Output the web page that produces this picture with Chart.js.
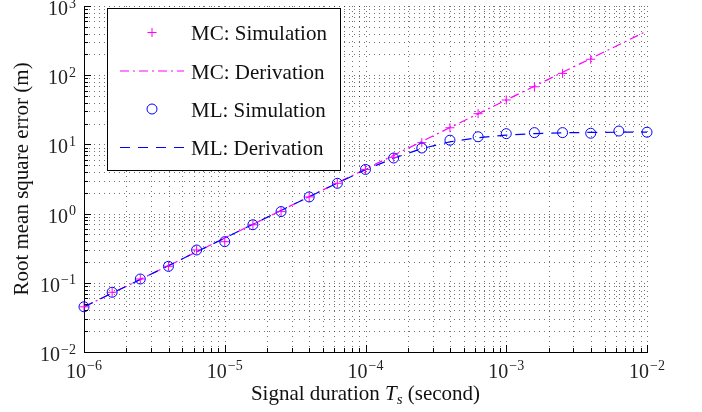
<!DOCTYPE html>
<html>
<head>
<meta charset="utf-8">
<script src="https://cdn.jsdelivr.net/npm/chart.js@4.4.0/dist/chart.umd.min.js"></script>
<style>
  html, body { margin: 0; padding: 0; background: #fff; }
  #wrap { width: 702px; height: 412px; }
</style>
</head>
<body>
<div id="wrap"><canvas id="rmse" width="702" height="412"></canvas></div>
<script>
// signal durations (s), 0.2-decade steps
const DURATIONS = [
  1e-6, 1.585e-6, 2.512e-6, 3.981e-6, 6.310e-6,
  1e-5, 1.585e-5, 2.512e-5, 3.981e-5, 6.310e-5,
  1e-4, 1.585e-4, 2.512e-4, 3.981e-4, 6.310e-4,
  1e-3, 1.585e-3, 2.512e-3, 3.981e-3, 6.310e-3,
  1e-2
];

// RMSE values (m)
const MC_SIM = [0.045, 0.073, 0.1135, 0.173, 0.298, 0.393, 0.69, 1.07, 1.74, 2.74,
                4.35, 6.5, 10.6, 17.4, 27.8, 43.8, 68, 106, 170];
const MC_DERIV = [0.045, 0.071, 0.112, 0.177, 0.28, 0.443, 0.70, 1.11, 1.76, 2.78,
                  4.4, 6.97, 11.0, 17.5, 27.7, 43.8, 69.4, 110, 174, 275, 436];
const ML_SIM = [0.045, 0.073, 0.1135, 0.173, 0.298, 0.393, 0.69, 1.07, 1.74, 2.74,
                4.35, 6.36, 8.87, 11.5, 12.9, 14.3, 14.8, 14.8, 14.5, 15.6, 15.0];
const ML_DERIV = [0.045, 0.071, 0.112, 0.177, 0.28, 0.443, 0.70, 1.11, 1.75, 2.76,
                  4.3, 6.3, 8.7, 10.9, 12.5, 13.6, 14.3, 14.7, 14.9, 15.0, 15.0];

const LABELS = ['MC: Simulation', 'MC: Derivation', 'ML: Simulation', 'ML: Derivation'];

// axis decades and minor multipliers
const X_EXPONENTS = [-6, -5, -4, -3, -2];
const Y_EXPONENTS = [-2, -1, 0, 1, 2, 3];
const MINOR_STEPS = [2, 3, 4, 5, 6, 7, 8, 9];

const MAGENTA = '#ff00ff';
const BLUE = '#0000ff';
const SERIF = '"Liberation Serif", "Times New Roman", serif';
const DASH_DOT = [9, 4, 2, 4];
const DASHED = [10, 8];

// legend styles, one per series
const LEGEND_KIND = ['cross', DASH_DOT, 'circle', DASHED];
const LEGEND_COLOR = [MAGENTA, MAGENTA, BLUE, BLUE];

function pairs(ys) {
  return ys.map((y, i) => ({ x: DURATIONS[i], y }));
}

function supText(e) {
  return e < 0 ? '\u2212' + Math.abs(e) : String(e);
}

function px(v) { return Math.round(v) + 0.5; }

const datasets = [
  { label: LABELS[0], data: pairs(MC_SIM), showLine: false, pointStyle: 'cross',
    pointRadius: 4.5, pointBorderColor: MAGENTA, pointBorderWidth: 1, borderColor: MAGENTA,
    backgroundColor: MAGENTA, clip: false, order: 1 },
  { label: LABELS[1], data: pairs(MC_DERIV), showLine: true, borderColor: MAGENTA, borderWidth: 1.2,
    borderDash: DASH_DOT, pointRadius: 0, fill: false, order: 3 },
  { label: LABELS[2], data: pairs(ML_SIM), showLine: false, pointStyle: 'circle',
    pointRadius: 5, pointBorderColor: BLUE, pointBackgroundColor: 'rgba(0,0,0,0)',
    pointBorderWidth: 1, borderColor: BLUE, clip: false, order: 0 },
  { label: LABELS[3], data: pairs(ML_DERIV), showLine: true, borderColor: BLUE, borderWidth: 1.2,
    borderDash: DASHED, pointRadius: 0, fill: false, order: 2 }
];

// dotted grid under the data
const gridPlugin = {
  id: 'dottedGrid',
  beforeDatasetsDraw(chart) {
    const { ctx, chartArea: a, scales: { x, y } } = chart;
    ctx.save();
    ctx.strokeStyle = 'rgba(0,0,0,0.55)';
    ctx.lineWidth = 1;
    ctx.setLineDash([1, 4]);
    X_EXPONENTS.forEach(e => {
      [1].concat(MINOR_STEPS).forEach(m => {
        const v = m * Math.pow(10, e);
        if (v < x.min * 0.999 || v > x.max * 1.001) return;
        const xp = px(x.getPixelForValue(v));
        ctx.beginPath(); ctx.moveTo(xp, a.bottom); ctx.lineTo(xp, a.top); ctx.stroke();
      });
    });
    Y_EXPONENTS.forEach(e => {
      [1].concat(MINOR_STEPS).forEach(m => {
        const v = m * Math.pow(10, e);
        if (v < y.min * 0.999 || v > y.max * 1.001) return;
        const yp = px(y.getPixelForValue(v));
        ctx.beginPath(); ctx.moveTo(a.left, yp); ctx.lineTo(a.right, yp); ctx.stroke();
      });
    });
    ctx.restore();
  }
};

// ticks, labels, titles, legend
const decorPlugin = {
  id: 'decor',
  afterDraw(chart) {
    const { ctx, chartArea: a, scales: { x, y } } = chart;
    ctx.save();
    ctx.setLineDash([]);
    ctx.strokeStyle = '#000';
    ctx.lineWidth = 1;

    // inward tick marks
    X_EXPONENTS.forEach(e => {
      [1].concat(MINOR_STEPS).forEach(m => {
        const v = m * Math.pow(10, e);
        if (v < x.min * 0.999 || v > x.max * 1.001) return;
        const xp = px(x.getPixelForValue(v));
        const len = m === 1 ? 7 : 4;
        ctx.beginPath(); ctx.moveTo(xp, a.bottom); ctx.lineTo(xp, a.bottom - len); ctx.stroke();
      });
    });
    Y_EXPONENTS.forEach(e => {
      [1].concat(MINOR_STEPS).forEach(m => {
        const v = m * Math.pow(10, e);
        if (v < y.min * 0.999 || v > y.max * 1.001) return;
        const yp = px(y.getPixelForValue(v));
        const len = m === 1 ? 7 : 4;
        ctx.beginPath(); ctx.moveTo(a.left, yp); ctx.lineTo(a.left + len, yp); ctx.stroke();
      });
    });

    // tick labels 10^n
    const big = '20px ' + SERIF, small = '14px ' + SERIF;
    ctx.fillStyle = '#222';
    ctx.textBaseline = 'alphabetic';
    ctx.textAlign = 'left';
    X_EXPONENTS.forEach(e => {
      const xp = x.getPixelForValue(Math.pow(10, e));
      ctx.font = big; const w1 = ctx.measureText('10').width;
      ctx.font = small; const w2 = ctx.measureText(supText(e)).width;
      const x0 = xp - (w1 + w2 + 1) / 2;
      ctx.font = big; ctx.fillText('10', x0, 378);
      ctx.font = small; ctx.fillText(supText(e), x0 + w1 + 1, 370);
    });
    Y_EXPONENTS.forEach(e => {
      const yp = y.getPixelForValue(Math.pow(10, e));
      ctx.font = big; const w1 = ctx.measureText('10').width;
      ctx.font = small; const w2 = ctx.measureText(supText(e)).width;
      const right = 76;
      ctx.font = big; ctx.fillText('10', right - w2 - w1 - 1, yp + 9);
      ctx.font = small; ctx.fillText(supText(e), right - w2, yp + 1.5);
    });

    // axis titles
    ctx.fillStyle = '#111';
    ctx.font = '21px ' + SERIF;
    ctx.save();
    ctx.translate(22, (a.top + a.bottom) / 2);
    ctx.rotate(-Math.PI / 2);
    ctx.textAlign = 'center';
    ctx.textBaseline = 'middle';
    ctx.fillText('Root mean square error (m)', 0, 0);
    ctx.restore();

    const parts = [
      { t: 'Signal duration ', f: '21px ' + SERIF, dy: 0 },
      { t: 'T', f: 'italic 21px ' + SERIF, dy: 0 },
      { t: 's', f: 'italic 15px ' + SERIF, dy: 4 },
      { t: ' (second)', f: '21px ' + SERIF, dy: 0 }
    ];
    let total = 0;
    parts.forEach(p => { ctx.font = p.f; p.w = ctx.measureText(p.t).width; total += p.w; });
    let cx = (a.left + a.right) / 2 - total / 2;
    ctx.textAlign = 'left';
    ctx.textBaseline = 'alphabetic';
    parts.forEach(p => { ctx.font = p.f; ctx.fillText(p.t, cx, 400 + p.dy); cx += p.w; });

    // legend box
    const box = { l: 107.5, t: 8.5, r: 340.5, b: 170.5 };
    ctx.fillStyle = '#fff';
    ctx.fillRect(box.l, box.t, box.r - box.l, box.b - box.t);
    ctx.strokeStyle = '#000';
    ctx.lineWidth = 1;
    ctx.strokeRect(box.l, box.t, box.r - box.l, box.b - box.t);
    const rows = [32.5, 71, 109, 147.5];
    const symX = 152, lineL = 120, lineR = 184, textX = 191;
    rows.forEach((ry, i) => {
      const kind = LEGEND_KIND[i];
      ctx.save();
      ctx.strokeStyle = LEGEND_COLOR[i];
      ctx.lineWidth = 1;
      if (kind === 'cross') {
        const r = 4.5;
        ctx.beginPath();
        ctx.moveTo(symX - r, ry); ctx.lineTo(symX + r, ry);
        ctx.moveTo(symX, ry - r); ctx.lineTo(symX, ry + r);
        ctx.stroke();
      } else if (kind === 'circle') {
        ctx.beginPath(); ctx.arc(symX, ry, 5, 0, Math.PI * 2); ctx.stroke();
      } else {
        ctx.lineWidth = 1.2;
        ctx.setLineDash(kind);
        ctx.beginPath(); ctx.moveTo(lineL, ry); ctx.lineTo(lineR, ry); ctx.stroke();
      }
      ctx.restore();
      ctx.font = '21px ' + SERIF;
      ctx.fillStyle = '#111';
      ctx.fillText(LABELS[i], textX, ry + 7.5);
    });
    ctx.restore();
  }
};

new Chart(document.getElementById('rmse'), {
  type: 'scatter',
  data: { datasets },
  options: {
    responsive: false,
    animation: false,
    devicePixelRatio: 1,
    layout: { padding: { top: 6, right: 55, left: 0, bottom: 0 } },
    plugins: { legend: { display: false }, tooltip: { enabled: false } },
    scales: {
      x: {
        type: 'logarithmic', min: 1e-6, max: 1e-2,
        grid: { display: false },
        ticks: { display: false },
        border: { display: true, color: '#000', width: 1 },
        afterFit(s) { s.height = 60; }
      },
      y: {
        type: 'logarithmic', min: 1e-2, max: 1e3,
        grid: { display: false },
        ticks: { display: false },
        border: { display: true, color: '#000', width: 1 },
        afterFit(s) { s.width = 84; }
      }
    }
  },
  plugins: [gridPlugin, decorPlugin]
});
</script>
</body>
</html>
